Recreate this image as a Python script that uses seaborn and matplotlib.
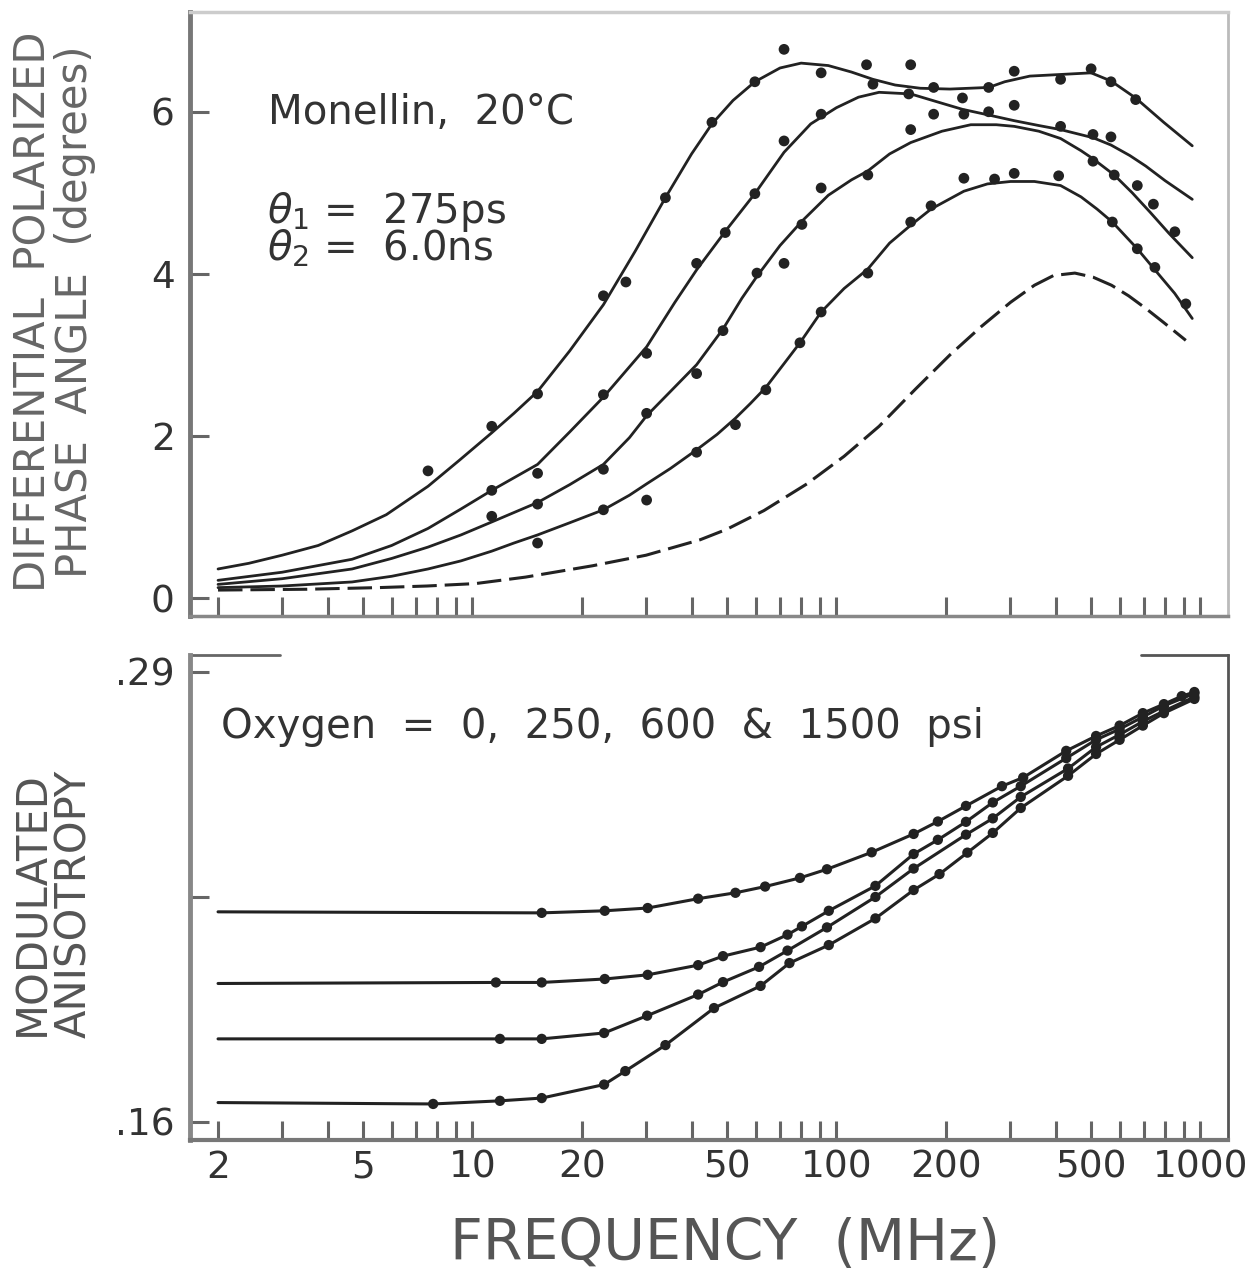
import numpy as np
import matplotlib
matplotlib.use('Agg')
import matplotlib.pyplot as plt
from matplotlib.ticker import NullFormatter
import seaborn as sns

sns.set_style('ticks')
plt.rcParams['font.family'] = ['DejaVu Sans']
plt.rcParams['mathtext.fontset'] = 'dejavusans'

# ---- top panel: differential polarized phase angle (degrees), fitted curves ----
fitA_f = [2, 2.43, 3, 3.77, 4.67, 5.8, 7.55, 9.2, 11.3, 13, 15.1, 18.5, 22.9, 28, 33.9, 40, 45.5, 52, 59.7, 70, 80, 95, 110, 126, 145, 170, 205, 262, 290, 340, 413, 501, 568, 664, 793, 950]
fitA_v = [0.36, 0.43, 0.53, 0.65, 0.83, 1.03, 1.38, 1.70, 2.04, 2.28, 2.55, 3.05, 3.62, 4.28, 4.94, 5.48, 5.85, 6.14, 6.37, 6.54, 6.60, 6.57, 6.49, 6.40, 6.33, 6.29, 6.28, 6.30, 6.37, 6.44, 6.46, 6.48, 6.38, 6.17, 5.87, 5.58]
fitB_f = [2, 3, 4.67, 6, 7.55, 9.3, 11.3, 15.1, 18.5, 22.9, 30.1, 36, 41.3, 50, 59.7, 71.8, 85, 100, 115, 131, 160, 190, 222, 262, 308, 360, 413, 507, 568, 640, 708, 800, 950]
fitB_v = [0.22, 0.32, 0.48, 0.65, 0.86, 1.10, 1.33, 1.65, 2.05, 2.48, 3.10, 3.65, 4.05, 4.55, 4.99, 5.50, 5.85, 6.05, 6.18, 6.24, 6.22, 6.12, 6.03, 5.96, 5.89, 5.83, 5.78, 5.68, 5.59, 5.46, 5.33, 5.15, 4.92]
fitC_f = [2, 3, 4.67, 6, 7.55, 9.3, 11.3, 15.1, 18.5, 22.9, 27, 30.1, 35, 41.3, 48.8, 55, 60.5, 70, 80.4, 95, 110, 122, 140, 160, 195, 234, 275, 308, 360, 413, 470, 507, 580, 650, 728, 820, 950]
fitC_v = [0.17, 0.24, 0.36, 0.49, 0.63, 0.78, 0.94, 1.18, 1.40, 1.65, 1.98, 2.25, 2.55, 2.88, 3.32, 3.70, 3.97, 4.35, 4.65, 4.97, 5.16, 5.27, 5.48, 5.62, 5.76, 5.84, 5.84, 5.82, 5.76, 5.67, 5.52, 5.42, 5.22, 5.00, 4.76, 4.50, 4.20]
fitD_f = [2, 3, 4.67, 6, 7.55, 9.3, 11.3, 13, 15.1, 18.5, 22.9, 27, 30.1, 35, 41.3, 47, 52.8, 58, 64, 72, 79.4, 90.8, 105, 122, 140, 160, 182, 224, 260, 301, 350, 413, 470, 520, 573, 671, 750, 850, 950]
fitD_v = [0.13, 0.15, 0.20, 0.27, 0.36, 0.46, 0.58, 0.68, 0.78, 0.93, 1.09, 1.27, 1.41, 1.60, 1.83, 2.02, 2.22, 2.40, 2.60, 2.90, 3.15, 3.53, 3.82, 4.06, 4.38, 4.60, 4.80, 5.02, 5.11, 5.14, 5.14, 5.09, 4.95, 4.80, 4.64, 4.31, 4.05, 3.76, 3.45]
fitE_f = [2, 3.5, 5.5, 7.5, 10.2, 14, 21.4, 30, 42.2, 50, 63.2, 83, 105, 131, 165, 205, 250, 301, 350, 395, 452, 507, 570, 635, 710, 793, 912]
fitE_v = [0.10, 0.11, 0.13, 0.15, 0.18, 0.26, 0.40, 0.53, 0.72, 0.85, 1.08, 1.41, 1.75, 2.12, 2.58, 3.00, 3.35, 3.65, 3.86, 3.98, 4.01, 3.96, 3.86, 3.73, 3.57, 3.40, 3.18]

# measured points
ptsA_f = [7.55, 11.3, 15.1, 22.9, 26.4, 33.9, 45.5, 59.7, 71.8, 90.8, 121, 160, 185, 222, 262, 308, 413, 501, 568, 664]
ptsA_v = [1.57, 2.12, 2.52, 3.73, 3.90, 4.94, 5.87, 6.37, 6.77, 6.48, 6.58, 6.58, 6.30, 6.17, 6.30, 6.50, 6.40, 6.53, 6.37, 6.15]
ptsB_f = [11.3, 15.1, 22.9, 30.1, 41.3, 49.5, 59.7, 71.8, 90.8, 126, 158, 185, 224, 262, 308, 413, 507, 568]
ptsB_v = [1.33, 1.54, 2.51, 3.02, 4.13, 4.51, 4.99, 5.64, 5.97, 6.34, 6.22, 5.97, 5.97, 6.00, 6.08, 5.82, 5.72, 5.69]
ptsC_f = [11.3, 15.1, 22.9, 30.1, 41.3, 48.8, 60.5, 71.8, 80.4, 90.8, 122, 160, 507, 580, 671, 743, 851]
ptsC_v = [1.01, 1.16, 1.59, 2.28, 2.77, 3.30, 4.01, 4.13, 4.61, 5.06, 5.22, 5.78, 5.39, 5.22, 5.09, 4.86, 4.52]
ptsD_f = [15.1, 22.9, 30.1, 41.3, 52.8, 64, 79.4, 90.8, 122, 160, 182, 224, 272, 308, 408, 573, 671, 750, 912]
ptsD_v = [0.68, 1.09, 1.21, 1.80, 2.14, 2.57, 3.15, 3.53, 4.01, 4.64, 4.84, 5.18, 5.17, 5.24, 5.21, 4.64, 4.31, 4.08, 3.63]

# ---- bottom panel: modulated anisotropy (oxygen 0, 250, 600, 1500 psi) ----
start_f = 2
ox1_start, ox2_start, ox3_start, ox4_start = 0.2207, 0.2000, 0.1840, 0.1656
ox1_f = [15.5, 23.1, 30.3, 41.7, 52.8, 63.7, 79.4, 94.2, 125, 163, 190, 227, 285, 326, 428, 517, 600, 695, 794, 889, 963]
ox1_v = [0.2204, 0.2210, 0.2218, 0.2245, 0.2262, 0.2280, 0.2305, 0.2330, 0.2379, 0.2432, 0.2468, 0.2513, 0.2570, 0.2595, 0.2672, 0.2715, 0.2745, 0.2781, 0.2807, 0.2830, 0.2842]
ox2_f = [11.6, 15.5, 23.1, 30.3, 41.7, 48.8, 61.9, 73.4, 80.4, 95.3, 128, 163, 190, 227, 269, 321, 428, 517, 600, 695, 794, 963]
ox2_v = [0.2003, 0.2003, 0.2013, 0.2025, 0.2053, 0.2079, 0.2105, 0.2141, 0.2165, 0.2210, 0.2282, 0.2374, 0.2415, 0.2467, 0.2523, 0.2570, 0.2651, 0.2704, 0.2735, 0.2770, 0.2802, 0.2838]
ox3_f = [11.9, 15.5, 23.0, 30.2, 41.7, 48.8, 61.3, 73.4, 94.2, 128, 163, 227, 269, 321, 433, 517, 600, 695, 794, 963]
ox3_v = [0.1840, 0.1840, 0.1857, 0.1907, 0.1968, 0.2004, 0.2048, 0.2095, 0.2162, 0.2250, 0.2332, 0.2430, 0.2477, 0.2539, 0.2621, 0.2683, 0.2719, 0.2757, 0.2787, 0.2828]
ox4_f = [7.8, 11.9, 15.5, 23.0, 26.3, 33.9, 46.1, 61.9, 74.3, 95.3, 128, 163, 192, 229, 269, 321, 433, 517, 600, 695, 794, 963]
ox4_v = [0.1652, 0.1661, 0.1669, 0.1708, 0.1747, 0.1822, 0.1929, 0.1993, 0.2059, 0.2111, 0.2188, 0.2270, 0.2316, 0.2378, 0.2435, 0.2507, 0.2600, 0.2663, 0.2704, 0.2745, 0.2781, 0.2822]

major_x = [2, 5, 10, 20, 50, 100, 200, 500, 1000]
major_xlabels = ['2', '5', '10', '20', '50', '100', '200', '500', '1000']
minor_x = [3, 4, 6, 7, 8, 9, 30, 40, 60, 70, 80, 90, 300, 400, 600, 700, 800, 900]
top_yticks = [0, 2, 4, 6]
top_ylabels = ['0', '2', '4', '6']
bot_yticks = [0.16, 0.225, 0.29]
bot_ylabels = ['.16', '', '.29']

ink = '#222222'
txt = '#333333'

fig = plt.figure(figsize=(12.6, 12.82), dpi=100)
ax1 = fig.add_axes([0.1508, 0.5195, 0.8238, 0.4711])
ax2 = fig.add_axes([0.1508, 0.1108, 0.8238, 0.3783])

for ax in (ax1, ax2):
      ax.set_xscale('log')

for f, v in [(fitA_f, fitA_v), (fitB_f, fitB_v), (fitC_f, fitC_v), (fitD_f, fitD_v)]:
      sns.lineplot(x=f, y=v, ax=ax1, color=ink, lw=2.0, sort=False, estimator=None)
sns.lineplot(x=fitE_f, y=fitE_v, ax=ax1, color=ink, lw=2.2, sort=False, estimator=None, linestyle=(0, (8, 2.6)))
for f, v in [(ptsA_f, ptsA_v), (ptsB_f, ptsB_v), (ptsC_f, ptsC_v), (ptsD_f, ptsD_v)]:
      sns.scatterplot(x=f, y=v, ax=ax1, color=ink, s=60, marker='o', edgecolor='none', zorder=3)

for s0, f, v in [(ox1_start, ox1_f, ox1_v), (ox2_start, ox2_f, ox2_v), (ox3_start, ox3_f, ox3_v), (ox4_start, ox4_f, ox4_v)]:
      sns.lineplot(x=[start_f] + f, y=[s0] + v, ax=ax2, color=ink, lw=2.2, sort=False, estimator=None)
      sns.scatterplot(x=f, y=v, ax=ax2, color=ink, s=55, marker='o', edgecolor='none', zorder=3)

ax1.set_xlim(1.675, 1191); ax2.set_xlim(1.675, 1191)
ax1.set_ylim(-0.22, 7.23)
ax2.set_ylim(0.1548, 0.2949)

for ax in (ax1, ax2):
      ax.set_xticks(major_x)
      ax.set_xticks(minor_x, minor=True)
      ax.xaxis.set_minor_formatter(NullFormatter())
      ax.tick_params(axis='both', which='both', direction='in', length=14, width=2.2, color='#666666', labelcolor=txt, labelsize=27)
      ax.tick_params(axis='x', which='both', pad=7, top=False)
      ax.tick_params(axis='y', which='both', pad=11, right=False)
      ax.set_xlabel(''); ax.set_ylabel('')

ax1.set_xticklabels([])
ax2.set_xticklabels(major_xlabels)
ax1.set_yticks(top_yticks); ax1.set_yticklabels(top_ylabels)
ax2.set_yticks(bot_yticks); ax2.set_yticklabels(bot_ylabels)

# frame, as on the scanned plot
ax1.spines['left'].set(color='#777777', lw=3.5)
ax1.spines['bottom'].set(color='#888888', lw=2.5)
ax1.spines['top'].set(color='#cccccc', lw=2.5)
ax1.spines['right'].set(color='#bbbbbb', lw=2.0)
ax2.spines['left'].set(color='#888888', lw=3.5)
ax2.spines['bottom'].set(color='#777777', lw=3.0)
ax2.spines['right'].set(color='#555555', lw=2.0)
ax2.spines['top'].set_visible(False)
ax2.plot([0, 0.087], [1, 1], transform=ax2.transAxes, color='#666666', lw=2.0, clip_on=False)
ax2.plot([0.916, 1], [1, 1], transform=ax2.transAxes, color='#555555', lw=2.0, clip_on=False)

# annotations
ax1.text(0.0751, 0.8146, 'Monellin,  20°C', transform=ax1.transAxes, fontsize=29, color=txt, va='baseline')
# multi-line text: 'baseline' sits on the last line
ax1.text(0.0742, 0.589, r'$\theta_1$ =  275ps' + '\n' + r'$\theta_2$ =  6.0ns', transform=ax1.transAxes,
         fontsize=29, color=txt, va='baseline', ha='left', multialignment='left', linespacing=0.8)
ax2.text(0.030, 0.829, 'Oxygen  =  0,  250,  600  &  1500  psi', transform=ax2.transAxes, fontsize=29, color=txt, va='baseline')

fig.text(0.0429, 0.7566, 'DIFFERENTIAL  POLARIZED\nPHASE  ANGLE  (degrees)', rotation=90, ha='center', va='center',
         multialignment='center', fontsize=30, color='#666666', linespacing=1.0)
fig.text(0.0425, 0.2950, 'MODULATED\nANISOTROPY', rotation=90, ha='center', va='center',
         multialignment='center', fontsize=30, color='#555555', linespacing=1.0)
fig.text(0.5754, 0.0289, 'FREQUENCY  (MHz)', ha='center', va='center', fontsize=41, color='#555555')

fig.savefig('out.png', dpi=100, facecolor='white')
